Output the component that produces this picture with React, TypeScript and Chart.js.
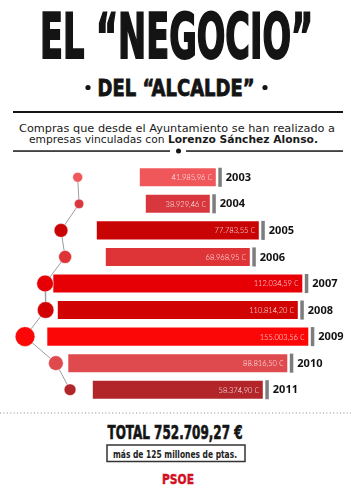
import React, { useEffect, useRef } from "react";
import { Chart, registerables } from "chart.js";

Chart.register(...registerables);

// ---- data ----
const years = ["2003", "2004", "2005", "2006", "2007", "2008", "2009", "2010", "2011"];
const amounts = [41985.96, 38929.46, 77783.55, 68968.95, 112034.59, 110814.2, 155003.56, 88816.5, 58374.9];
const amountLabels = [
  "41.985,96 €",
  "38.929,46 €",
  "77.783,55 €",
  "68.968,95 €",
  "112.034,59 €",
  "110.814,20 €",
  "155.003,56 €",
  "88.816,50 €",
  "58.374,90 €",
];
// the infographic's bars are not drawn to scale: lengths as drawn in the picture
const barLengths = [76, 64, 162, 144, 249, 240, 261, 219, 170];
const barColors = [
  "#f0575b",
  "#d8383d",
  "#c90404",
  "#de3337",
  "#e60006",
  "#d10303",
  "#fb0707",
  "#df4a4f",
  "#b2262a",
];
const totalLabel = "TOTAL 752.709,27 €";
const ptasLabel = "más de 125 millones de ptas.";

const condensed = "'Liberation Sans Narrow', 'DejaVu Sans Condensed', 'DejaVu Sans', sans-serif";

const barDecor = {
  id: "barDecor",
  afterDatasetsDraw(chart: any) {
    const ctx = chart.ctx;
    const meta = chart.getDatasetMeta(0);
    ctx.save();
    meta.data.forEach((el: any, i: number) => {
      const h = el.height;
      // grey marker
      ctx.fillStyle = "#7d7d7d";
      ctx.fillRect(el.x + 2.5, el.y - h / 2 - 0.5, 3.5, h + 1);
      // year label
      ctx.fillStyle = "#111";
      ctx.font = "bold 11px 'Noto Sans', 'DejaVu Sans', sans-serif";
      ctx.textAlign = "left";
      ctx.textBaseline = "middle";
      ctx.fillText(years[i], el.x + 10, el.y + 0.5);
      // amount label inside the bar
      ctx.fillStyle = "rgba(255,255,255,0.92)";
      ctx.font = "300 7.5px Lato, 'DejaVu Sans', sans-serif";
      ctx.textAlign = "right";
      ctx.fillText(amountLabels[i], el.x - 4, el.y + 0.5);
    });
    ctx.restore();
  },
};

function BarsChart() {
  const ref = useRef<HTMLCanvasElement | null>(null);
  useEffect(() => {
    if (!ref.current) return;
    const chart = new Chart(ref.current, {
      type: "bar",
      data: {
        labels: years,
        datasets: [
          {
            type: "bar",
            data: barLengths.map((l) => [-l / 2, l / 2]) as any,
            backgroundColor: barColors,
            borderWidth: 0,
            barPercentage: 0.68,
            categoryPercentage: 1,
            xAxisID: "x",
            yAxisID: "y",
            order: 2,
          } as any,
          {
            type: "line",
            indexAxis: "y",
            data: years.map((y, i) => ({ x: amounts[i] / 1000, y })) as any,
            xAxisID: "xd",
            yAxisID: "y",
            borderColor: "#9c9c9c",
            borderWidth: 1,
            pointRadius: (c: any) => 0.83 * Math.sqrt(amounts[c.dataIndex] / 1000) - 0.5,
            pointBackgroundColor: barColors,
            pointBorderColor: "rgba(255,255,255,0.35)",
            pointBorderWidth: 1,
            tension: 0,
            clip: false,
            order: 1,
          } as any,
        ],
      },
      options: {
        indexAxis: "y",
        responsive: false,
        maintainAspectRatio: false,
        animation: false,
        layout: { padding: 0, autoPadding: false },
        plugins: { legend: { display: false }, tooltip: { enabled: false } },
        scales: {
          y: { type: "category", display: false, offset: true, grid: { display: false } },
          x: { type: "linear", display: false, min: -177.8, max: 173.2 },
          xd: { type: "linear", axis: "x", display: false, reverse: true, min: -545, max: 208.8 },
        },
      } as any,
      plugins: [barDecor],
    });
    return () => chart.destroy();
  }, []);
  return (
    <canvas
      ref={ref}
      width={351}
      height={239}
      style={{ position: "absolute", left: 0, top: 164, width: 351, height: 239 }}
    />
  );
}

export default function App() {
  return (
    <div
      style={{
        position: "fixed",
        left: 0,
        top: 0,
        width: 351,
        height: 496,
        background: "#fff",
        overflow: "hidden",
      }}
    >
      <svg width={351} height={496} style={{ position: "absolute", left: 0, top: 0 }}>
        <text
          x={40}
          y={57.5}
          fontFamily={condensed}
          fontWeight="bold"
          fontSize={62}
          textLength={273}
          lengthAdjust="spacingAndGlyphs"
          fill="#141414"
          stroke="#141414"
          strokeWidth={2}
        >
          EL “NEGOCIO”
        </text>
        <circle cx={88} cy={87.5} r={2.6} fill="#141414" />
        <text
          x={97.5}
          y={96.3}
          fontFamily={condensed}
          fontWeight="bold"
          fontSize={23.5}
          textLength={157}
          lengthAdjust="spacingAndGlyphs"
          fill="#141414"
          stroke="#141414"
          strokeWidth={0.8}
        >
          DEL “ALCALDE”
        </text>
        <circle cx={265} cy={87.5} r={2.6} fill="#141414" />
        <rect x={13} y={111} width={330} height={2} fill="#141414" />
        <text
          x={19}
          y={131.7}
          fontFamily="'DejaVu Sans', sans-serif"
          fontSize={11}
          textLength={316}
          lengthAdjust="spacingAndGlyphs"
          fill="#1a1a1a"
        >
          Compras que desde el Ayuntamiento se han realizado a
        </text>
        <text
          x={29}
          y={142.8}
          fontFamily="'DejaVu Sans', sans-serif"
          fontSize={11}
          textLength={289}
          lengthAdjust="spacingAndGlyphs"
          fill="#1a1a1a"
        >
          empresas vinculadas con <tspan fontWeight="bold">Lorenzo Sánchez Alonso.</tspan>
        </text>
        <rect x={13} y={150.3} width={157} height={1.5} fill="#141414" />
        <rect x={186} y={150.3} width={157} height={1.5} fill="#141414" />
        <circle cx={178.5} cy={151} r={2.5} fill="#141414" />
        <line x1={0} y1={413} x2={351} y2={413} stroke="#8a8a8a" strokeWidth={1.2} strokeDasharray="1 2.4" />
        <text
          x={107.5}
          y={439.3}
          fontFamily={condensed}
          fontWeight="bold"
          fontSize={19.2}
          textLength={135}
          lengthAdjust="spacingAndGlyphs"
          fill="#141414"
          stroke="#141414"
          strokeWidth={0.6}
        >
          {totalLabel}
        </text>
        <rect x={107} y={445} width={138} height={16.5} fill="none" stroke="#333" strokeWidth={1.5} />
        <text
          x={113}
          y={458}
          fontFamily={condensed}
          fontWeight="bold"
          fontSize={11}
          textLength={124}
          lengthAdjust="spacingAndGlyphs"
          fill="#222"
        >
          {ptasLabel}
        </text>
        <text
          x={162}
          y={484}
          fontFamily={condensed}
          fontWeight="bold"
          fontSize={14.6}
          textLength={32}
          lengthAdjust="spacingAndGlyphs"
          fill="#d2101f"
          stroke="#d2101f"
          strokeWidth={0.4}
        >
          PSOE
        </text>
      </svg>
      <BarsChart />
    </div>
  );
}
